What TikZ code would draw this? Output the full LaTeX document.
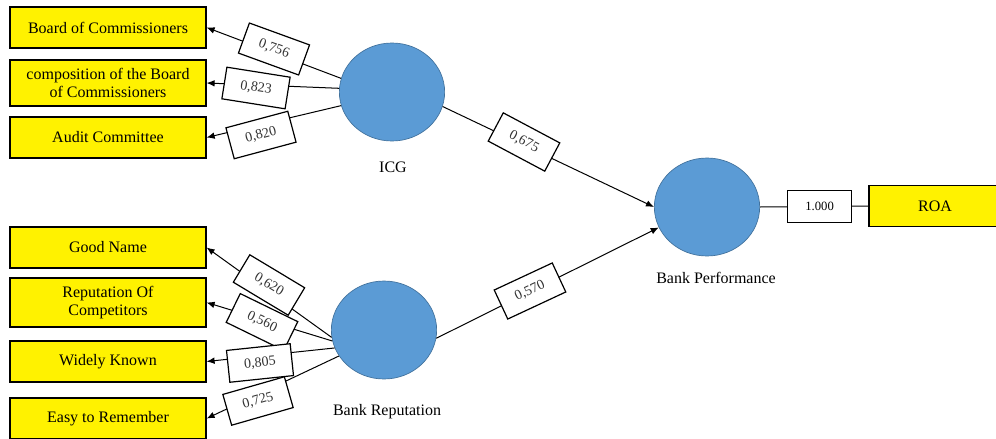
\documentclass[tikz,border=0pt]{standalone}
\usepackage{fontspec}
\setmainfont{Liberation Serif}
\usetikzlibrary{arrows.meta,shapes.geometric,positioning}

\definecolor{lvblue}{HTML}{5B9BD5}
\definecolor{lvedge}{HTML}{41719C}

\tikzset{
  ind/.style={draw, fill=yellow, minimum width=147pt, minimum height=30.75pt,
    align=center, inner sep=1pt, line width=0.9pt,
    font=\fontsize{12}{13.5}\selectfont},
  lv/.style={ellipse, draw=lvedge, fill=lvblue, minimum width=79pt,
    minimum height=73.5pt, inner sep=0pt, line width=0.5pt},
  wt/.style={draw, fill=white, minimum width=48pt, minimum height=24pt,
    inner sep=1pt, line width=0.9pt, text=black!80,
    font=\fontsize{10.5}{12}\selectfont},
  lvname/.style={font=\fontsize{12}{14}\selectfont},
  link/.style={draw, line width=0.75pt},
  tip/.style={-{Latex[length=6pt,width=5pt]}}
}

\begin{document}
\begin{tikzpicture}[x=0.75pt,y=-0.75pt]
\useasboundingbox (0,0) rectangle (996,439);
\clip (0,0) rectangle (996,439);

% indicators
\node[ind] (board) at (108,27.5) {Board of Commissioners};
\node[ind, minimum height=34.5pt] (comp) at (108,83) {composition of the Board\\of Commissioners};
\node[ind] (audit) at (108,137.5) {Audit Committee};
\node[ind] (good) at (108,247.5) {Good Name};
\node[ind, minimum height=36.75pt] (compet) at (108,302.5) {Reputation Of\\Competitors};
\node[ind] (known) at (108,361.5) {Widely Known};
\node[ind] (easy) at (108,418.5) {Easy to Remember};
\node[ind, minimum width=99pt] (roa) at (935,206) {ROA};

% latent variables
\node[lv] (icg) at (392,92) {};
\node[lv] (rep) at (384,330) {};
\node[lv] (perf) at (707,207) {};
\node[lvname] (icgname) at (393,167) {ICG};
\node[lvname] (repname) at (387,412) {Bank Reputation};
\node[lvname] (perfname) at (716,278) {Bank Performance};

% outer model
\draw[link,tip] (icg.165) -- (board.east);
\draw[link,tip] (icg.176) -- (comp.east);
\draw[link,tip] (icg.195) -- (audit.east);
\draw[link,tip] (rep.188) -- (good.east);
\draw[link,tip] (rep.192) -- (compet.east);
\draw[link,tip] (rep.200) -- (known.east);
\draw[link,tip] (rep.210) -- (easy.east);

% inner model
\draw[link,tip] (icg.-16) -- (perf.west);
\draw[link,tip] (rep.-9) -- (perf.203);
\draw[link] (perf.east) -- node[wt, pos=0.55, font=\fontsize{9.5}{11}\selectfont, text=black] (w1000) {1.000} (roa.west);

% loadings
\node[wt, rotate=-20] (w756) at (274,49) {0,756};
\node[wt, rotate=-9] (w823) at (256,88) {0,823};
\node[wt, rotate=15] (w820) at (261,135) {0,820};
\node[wt, rotate=-31] (w620) at (269,285) {0,620};
\node[wt, rotate=-26] (w560) at (262,322) {0,560};
\node[wt, rotate=6] (w805) at (260,363) {0,805};
\node[wt, rotate=16] (w725) at (258,401) {0,725};
\node[wt, rotate=-28] (w675) at (524,142) {0,675};
\node[wt, rotate=25] (w570) at (530,291) {0,570};
\end{tikzpicture}
\end{document}
